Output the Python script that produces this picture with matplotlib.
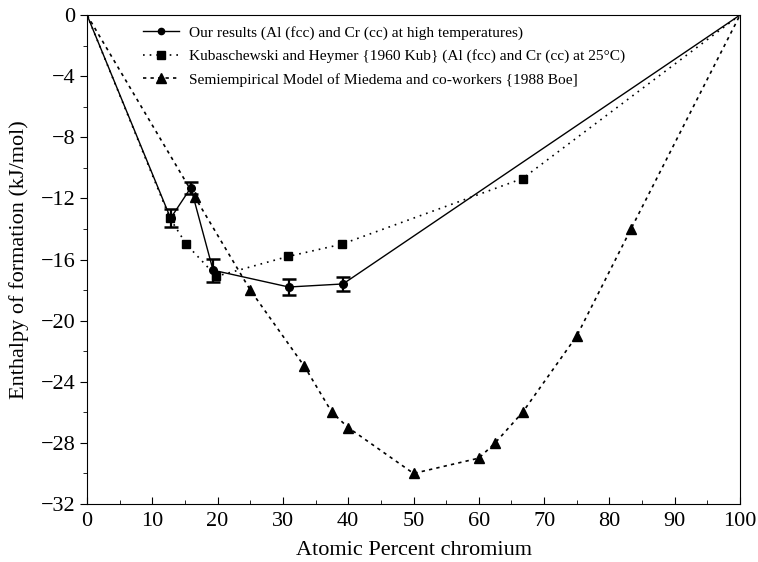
import numpy as np
import matplotlib
matplotlib.use('Agg')
import matplotlib.pyplot as plt
from matplotlib.lines import Line2D
from matplotlib.ticker import MultipleLocator

plt.rcParams['font.family'] = ['Liberation Serif', 'DejaVu Serif']

# our measurements (high temperature), with error bars
x_ours = [0, 12.8, 15.9, 19.3, 30.9, 39.2, 100]
h_ours = [0, -13.3, -11.3, -16.7, -17.8, -17.6, 0]
err_ours = [0, 0.6, 0.4, 0.75, 0.5, 0.45, 0]

# Kubaschewski and Heymer, 25 C
x_kub = [0, 12.7, 15.2, 19.8, 30.8, 39.0, 66.7, 100]
h_kub = [0, -13.3, -15.0, -17.1, -15.8, -15.0, -10.7, 0]

# Miedema semiempirical model
x_mied = [0, 16.5, 25.0, 33.3, 37.5, 40.0, 50.0, 60.0, 62.5, 66.7, 75.0, 83.3, 100]
h_mied = [0, -11.9, -18.0, -23.0, -26.0, -27.0, -30.0, -29.0, -28.0, -26.0, -21.0, -14.0, 0]

labels = [
    'Our results (Al (fcc) and Cr (cc) at high temperatures)',
    'Kubaschewski and Heymer {1960 Kub} (Al (fcc) and Cr (cc) at 25°C)',
    'Semiempirical Model of Miedema and co-workers {1988 Boe]',
]

styles = [
    dict(linestyle='-', lw=1.0, marker='o', ms=5.5),
    dict(linestyle=(0, (1, 3)), lw=1.2, marker='s', ms=5.5),
    dict(linestyle=(0, (2, 2.5)), lw=1.2, marker='^', ms=7),
]

fig = plt.figure(figsize=(7.58, 5.62), dpi=100)
ax = fig.add_axes([0.1148, 0.1032, 0.8615, 0.8701])

# pure elements at 0 and 100 % are drawn without markers
ax.plot(x_ours, h_ours, color='black', markevery=slice(1, -1), zorder=4, **styles[0])
ax.errorbar(x_ours[1:-1], h_ours[1:-1], yerr=err_ours[1:-1], fmt='none',
            ecolor='black', elinewidth=1.6, capsize=4.8, capthick=1.8, zorder=4)
ax.plot(x_kub, h_kub, color='black', markevery=slice(1, -1), zorder=3, **styles[1])
ax.plot(x_mied, h_mied, color='black', markevery=slice(1, -1), zorder=3, **styles[2])

ax.set_xlim(0, 100)
ax.set_ylim(-32, 0)
ax.xaxis.set_major_locator(MultipleLocator(10))
ax.xaxis.set_minor_locator(MultipleLocator(5))
ax.yaxis.set_major_locator(MultipleLocator(4))
ax.yaxis.set_minor_locator(MultipleLocator(2))
ax.tick_params(axis='x', which='both', direction='in', top=False, labelsize=16, pad=6)
ax.tick_params(axis='y', which='both', direction='out', right=False, labelsize=16)
ax.tick_params(which='major', length=5)
ax.tick_params(which='minor', length=3)

ax.set_xlabel('Atomic Percent chromium', fontsize=16, labelpad=7)
ax.set_ylabel('Enthalpy of formation (kJ/mol)', fontsize=16, labelpad=8)

handles = [Line2D([], [], color='black', **st) for st in styles]
handles[0].set_markersize(4.5)
ax.legend(handles, labels, loc='upper left', bbox_to_anchor=(0.069, 1.0),
          frameon=False, fontsize=11.1, handlelength=2.35, handletextpad=0.65,
          numpoints=1, labelspacing=0.62, borderaxespad=0.3)

fig.savefig('out.png', dpi=100)
